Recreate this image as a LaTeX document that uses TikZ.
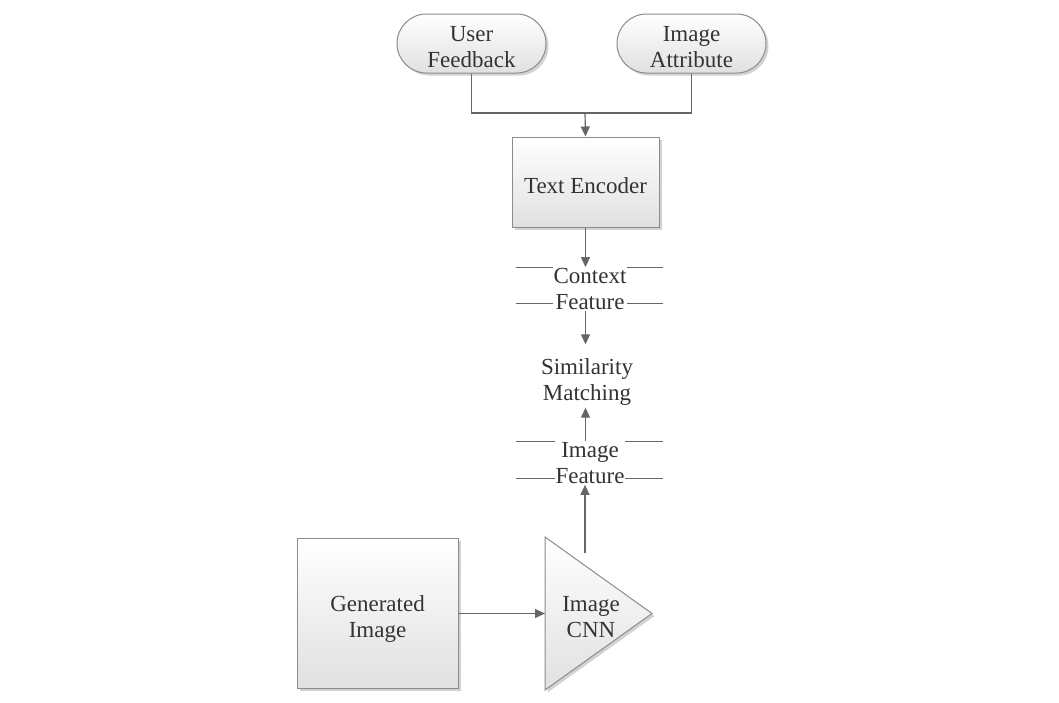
\documentclass[tikz,border=0pt]{standalone}
\usepackage{fontspec}
\setmainfont{Liberation Serif}
\usetikzlibrary{arrows.meta,shapes.misc,shadows}
\newcommand{\capstrut}[1]{\rule{0pt}{#1}}
\begin{document}
\begin{tikzpicture}[x=1pt, y=-1pt,
  font=\fontsize{23}{26}\selectfont, text=black!80,
  >={Triangle[length=10pt,width=9pt]},
  link/.style={draw=black!60, line width=1.2pt},
  box/.style={draw=black!45, line width=1pt, top color=white, bottom color=black!12,
    drop shadow={shadow xshift=2.5pt, shadow yshift=-2.5pt, fill=black!35, opacity=.5},
    align=center, inner sep=0pt},
  term/.style={box, rounded rectangle, minimum width=149pt, minimum height=59pt},
  proc/.style={box, rectangle},
  store/.style={fill=white, align=center, inner sep=1pt},
  storeline/.style={draw=black!60, line width=1pt}]
\useasboundingbox (0,0) rectangle (1059,702);

\node[term](fb) at (471.5,43.5) {\capstrut{22pt}User\\Feedback};
\node[term](attr) at (691.5,43.5) {\capstrut{22pt}Image\\Attribute};
\node[proc, minimum width=147pt, minimum height=90pt](enc) at (585.5,182) {\capstrut{23pt}Text Encoder};

% data stores
\draw[storeline](516,267)--(663,267) (516,303)--(663,303);
\node[store](ctx) at (590,289) {Context\\Feature};
\draw[storeline](516,441)--(663,441) (516,478)--(663,478);
\node[store](imf) at (590,463) {Image\\Feature};

\node[align=center, inner sep=2pt](sim) at (587,382) {Similarity\\Matching};

\node[proc, minimum width=161pt, minimum height=150pt](gen) at (377.5,613) {\capstrut{28pt}Generated\\Image};
% amplifier triangle
\draw[box](545,537)--(652,613.5)--(545,690)--cycle;
\node[align=center](cnn) at (591,617) {Image\\CNN};

\coordinate (join) at (585,113);
\coordinate (cnnin) at (545,613.5);
\coordinate (cnnout) at (585,553);
\draw[link](fb.south) |- (join) -| (attr.south);
\draw[link,->](join)--(enc.north);
\draw[link,->](enc.south)--(enc.south |- ctx.north);
\draw[link,->](enc.south |- ctx.south)--([yshift=12pt]enc.south |- sim.north);
\draw[link,->](enc.south |- imf.north)--(enc.south |- sim.south);
\draw[link,->](cnnout)--(cnnout |- imf.south);
\draw[link,->](gen.east |- cnnin)--(cnnin);
\end{tikzpicture}
\end{document}
